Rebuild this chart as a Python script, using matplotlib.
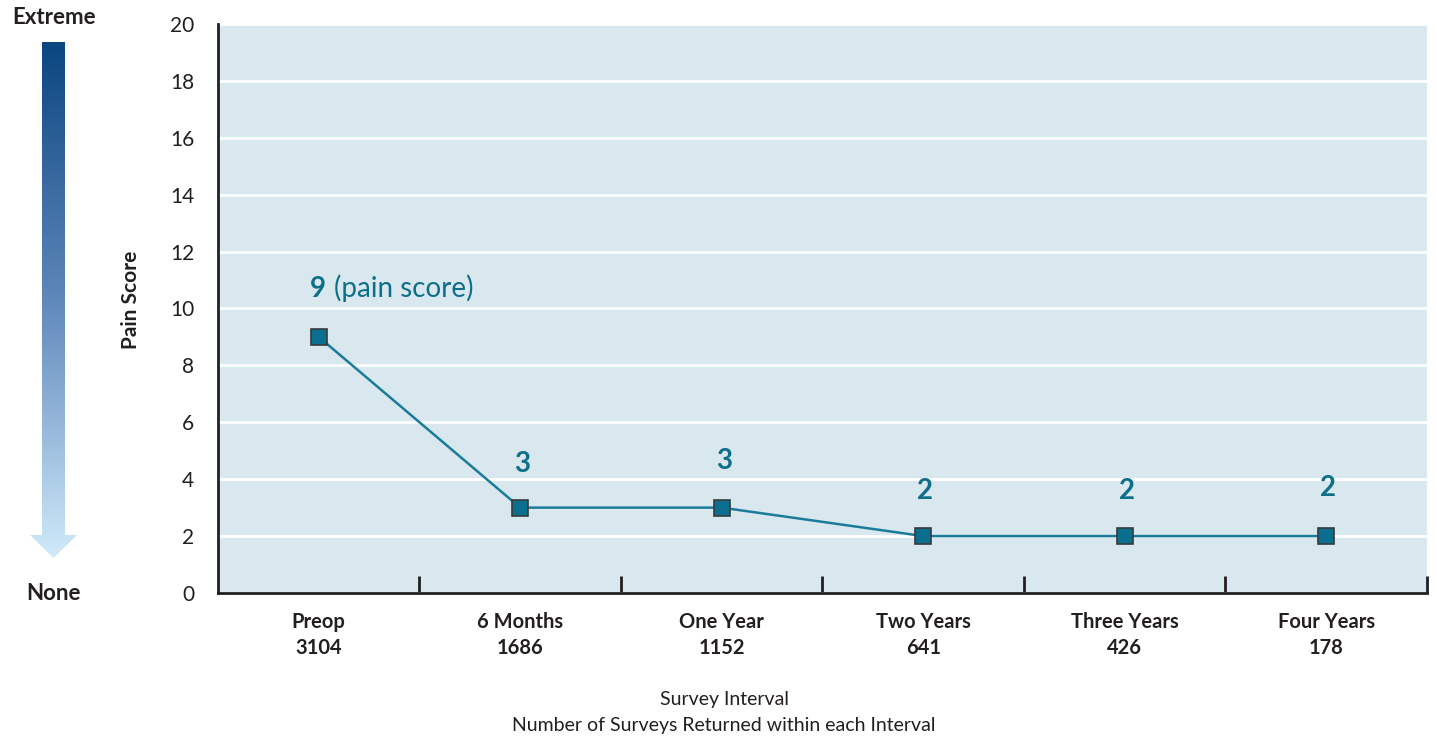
import numpy as np
import matplotlib
matplotlib.use('Agg')
import matplotlib.pyplot as plt
from matplotlib.colors import LinearSegmentedColormap
from matplotlib.patches import Polygon

plt.rcParams['font.family'] = ['Lato', 'DejaVu Sans']

intervals = ['Preop', '6 Months', 'One Year', 'Two Years', 'Three Years', 'Four Years']
surveys = [3104, 1686, 1152, 641, 426, 178]
pain = [9, 3, 3, 2, 2, 2]
label_y = [10.7, 4.55, 4.65, 3.6, 3.6, 3.7]

BG = '#d9e8ef'
INK = '#231f20'
TEAL = '#0e6f8a'
LINE = '#1a7c98'

fig = plt.figure(figsize=(14.37, 7.39), dpi=100)
ax = fig.add_axes([0.1517, 0.1976, 0.8413, 0.7699])
ax.set_facecolor(BG)

x = np.arange(len(intervals))
ax.plot(x, pain, color=LINE, linewidth=1.8, zorder=3)
ax.plot(x, pain, linestyle='none', marker='s', markersize=11, markerfacecolor='#0a6f8e',
        markeredgecolor='#3a3a3a', markeredgewidth=1.2, zorder=4)

ax.set_xlim(-0.5, 5.5)
ax.set_ylim(0, 20)
ax.set_yticks(range(0, 21, 2))
ax.tick_params(axis='y', length=0, pad=17, labelsize=15, labelcolor=INK)
ax.yaxis.grid(True, color='white', linewidth=2)
ax.set_axisbelow(True)

ax.set_xticks(np.arange(0.5, 6.0, 1.0))
ax.set_xticklabels([])
ax.tick_params(axis='x', direction='in', length=12, width=2, color=INK)
ax.set_xticks(x, minor=True)
ax.set_xticklabels([f'{a}\n{b}' for a, b in zip(intervals, surveys)], minor=True,
                   fontweight='bold', fontsize=14.5, color=INK, linespacing=1.35)
ax.tick_params(axis='x', which='minor', length=0, pad=14)

for s in ['top', 'right']:
    ax.spines[s].set_visible(False)
for s in ['left', 'bottom']:
    ax.spines[s].set_color(INK)
    ax.spines[s].set_linewidth(2)

fig.text(131 / 1437, 1 - 300 / 739, 'Pain Score', fontsize=15, fontweight='bold', color=INK,
         rotation=90, ha='center', va='center')
fig.text(724 / 1437, 1 - 700 / 739, 'Survey Interval', fontsize=14, color=INK, ha='center', va='center')
fig.text(724 / 1437, 1 - 725 / 739, 'Number of Surveys Returned within each Interval', fontsize=14,
         color=INK, ha='center', va='center')

for i, (v, ly) in enumerate(zip(pain, label_y)):
    if i == 0:
        ax.text(i - 0.045, ly, str(v), color=TEAL, fontsize=20, fontweight='bold', ha='left', va='center')
        ax.text(i + 0.075, ly, '(pain score)', color=TEAL, fontsize=20, ha='left', va='center')
    else:
        ax.text(i + 0.01, ly, str(v), color=TEAL, fontsize=20, fontweight='bold', ha='center', va='center')

# gradient arrow on the left
ax2 = fig.add_axes([0, 0, 1, 1], zorder=-1)
ax2.set_xlim(0, 1437)
ax2.set_ylim(739, 0)
ax2.axis('off')
cmap = LinearSegmentedColormap.from_list('arr', ['#0b4680', '#5f88bb', '#cfeafa'])
grad = np.linspace(0, 1, 256).reshape(-1, 1)
im = ax2.imshow(grad, cmap=cmap, extent=[30, 78, 558, 42], aspect='auto')
arrow = Polygon([[42, 42], [65, 42], [65, 535], [77, 535], [53.5, 558], [30, 535], [42, 535]],
                closed=True, facecolor='none', edgecolor='none', transform=ax2.transData)
ax2.add_patch(arrow)
im.set_clip_path(arrow)
ax2.text(54, 18, 'Extreme', fontsize=16, fontweight='bold', color=INK, ha='center', va='center')
ax2.text(54, 594, 'None', fontsize=16, fontweight='bold', color=INK, ha='center', va='center')

fig.savefig('out.png', dpi=100)
